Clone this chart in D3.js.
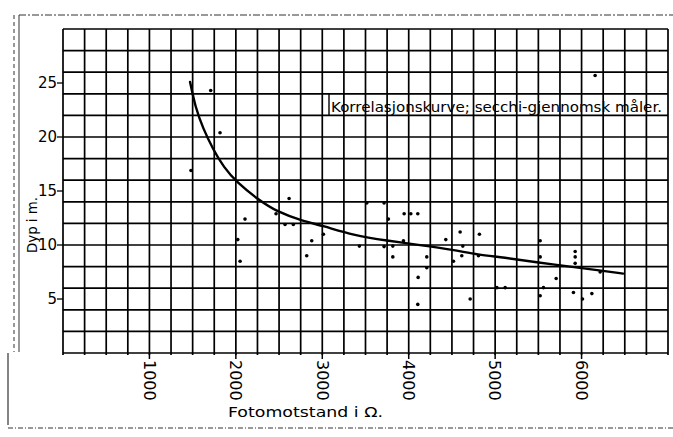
<!DOCTYPE html>
<html>
<head>
<meta charset="utf-8">
<script src="https://cdn.jsdelivr.net/npm/d3@7"></script>
<style>
  html, body { margin: 0; padding: 0; background: #fff; }
  svg { display: block; }
  text { font-family: "DejaVu Sans", sans-serif; fill: #000; }
</style>
</head>
<body>
<svg id="chart" width="673" height="437"></svg>
<script>
// ---- data ----
const xTickValues = [1000, 2000, 3000, 4000, 5000, 6000];
const xTickLabels = ["1000", "2000", "3000", "4000", "5000", "6000"];
const yTickValues = [5, 10, 15, 20, 25];
const yTickLabels = ["5", "10", "15", "20", "25"];

// measured points (Fotomotstand in ohm, Dyp in m)
const pointX = [1709, 1817, 1481, 2616, 2465, 2106, 2569, 2665, 3013, 2022,
                2878, 2049, 2820, 3515, 3715, 3947, 4024, 4105, 3765, 3429,
                3715, 3816, 3939, 3816, 4209, 4209, 4109, 4105, 4429, 4595,
                4626, 4614, 4518, 4807, 4711, 4818, 5020, 5116, 5521, 5521,
                5521, 5559, 5706, 5926, 5926, 5926, 5906, 6011, 6119, 6215,
                6157];
const pointY = [24.3, 20.4, 16.9, 14.3, 12.9, 12.4, 11.9, 11.9, 11.0, 10.5,
                10.4, 8.5, 9.0, 13.9, 13.9, 12.9, 12.9, 12.9, 12.4, 9.9,
                9.85, 9.9, 10.4, 8.9, 8.9, 7.9, 7.0, 4.5, 10.5, 11.2,
                9.9, 9.0, 8.5, 9.0, 5.0, 11.0, 6.05, 6.05, 10.4, 8.9,
                5.3, 6.05, 6.9, 9.4, 8.9, 8.3, 5.6, 5.0, 5.5, 7.5,
                25.7];

// correlation curve
const curveX = [1470, 1530, 1620, 1740, 1860, 2010, 2260, 2470, 2780, 3000,
                3360, 3750, 4130, 4520, 4800, 5100, 5480, 5870, 6250, 6480];
const curveY = [25.1, 22.8, 20.8, 18.8, 17.2, 15.8, 14.2, 13.1, 12.2, 11.8,
                10.9, 10.4, 10.0, 9.55, 9.1, 8.85, 8.4, 8.0, 7.6, 7.35];

const annotation = "Korrelasjonskurve;  secchi-gjennomsk måler.";
const xTitle = "Fotomotstand i Ω.";
const yTitle = "Dyp i m.";

// ---- drawing ----
const svg = d3.select("#chart");
const x = d3.scaleLinear().domain([0, 7000]).range([63, 668]);
const y = d3.scaleLinear().domain([0, 30]).range([353, 29]);

// scan frame
const frame = svg.append("g").attr("stroke", "#333").attr("fill", "none");
frame.append("line").attr("x1", 19).attr("x2", 673).attr("y1", 15).attr("y2", 15)
  .attr("stroke-width", 1).attr("stroke-dasharray", "7,2,2,2");
frame.append("line").attr("x1", 14).attr("x2", 14).attr("y1", 15).attr("y2", 352)
  .attr("stroke-width", 1).attr("stroke-dasharray", "4,3");
frame.append("line").attr("x1", 19).attr("x2", 19).attr("y1", 15).attr("y2", 352)
  .attr("stroke-width", 1);
frame.append("line").attr("x1", 8).attr("x2", 8).attr("y1", 353).attr("y2", 425)
  .attr("stroke-width", 1.2);
frame.append("line").attr("x1", 8).attr("x2", 673).attr("y1", 428).attr("y2", 428)
  .attr("stroke-width", 1).attr("stroke-dasharray", "5,2,1,2");

// grid
const grid = svg.append("g").attr("stroke", "#000").attr("stroke-width", 1.7);
grid.selectAll("line.v").data(d3.range(0, 7001, 250)).join("line")
  .attr("class", "v")
  .attr("x1", d => x(d)).attr("x2", d => x(d))
  .attr("y1", y(30)).attr("y2", y(0) + 2);
grid.selectAll("line.h").data(d3.range(0, 31, 2)).join("line")
  .attr("class", "h")
  .attr("x1", x(0)).attr("x2", x(7000))
  .attr("y1", d => y(d)).attr("y2", d => y(d));

// y axis ticks and labels
const yAxis = svg.append("g");
yAxis.selectAll("line").data(yTickValues).join("line")
  .attr("x1", x(0) - 6).attr("x2", x(0))
  .attr("y1", d => y(d)).attr("y2", d => y(d))
  .attr("stroke", "#000").attr("stroke-width", 1.3);
yAxis.selectAll("text").data(yTickValues).join("text")
  .attr("x", x(0) - 6).attr("y", d => y(d)).attr("dy", "0.36em")
  .attr("text-anchor", "end").attr("font-size", 15)
  .text((d, i) => yTickLabels[i]);

// x axis ticks and labels
const xAxis = svg.append("g");
xAxis.selectAll("line").data(xTickValues).join("line")
  .attr("x1", d => x(d)).attr("x2", d => x(d))
  .attr("y1", y(0)).attr("y2", y(0) + 6)
  .attr("stroke", "#000").attr("stroke-width", 1.5);
xAxis.selectAll("text").data(xTickValues).join("text")
  .attr("transform", d => `translate(${x(d)},${y(0) + 7}) rotate(90)`)
  .attr("dy", "0.36em").attr("font-size", 16)
  .text((d, i) => xTickLabels[i]);

// titles
svg.append("text")
  .attr("x", 228).attr("y", 417).attr("font-size", 14)
  .attr("textLength", 155).attr("lengthAdjust", "spacingAndGlyphs")
  .text(xTitle);
svg.append("text")
  .attr("transform", "translate(37,253) rotate(-90)")
  .attr("font-size", 14)
  .attr("textLength", 56).attr("lengthAdjust", "spacingAndGlyphs")
  .text(yTitle);

// annotation
svg.append("line").attr("x1", 329).attr("x2", 329).attr("y1", y(24)).attr("y2", y(22))
  .attr("stroke", "#000").attr("stroke-width", 1.4);
svg.append("text")
  .attr("x", 331).attr("y", 111.5).attr("font-size", 13.5)
  .attr("textLength", 331).attr("lengthAdjust", "spacingAndGlyphs")
  .text(annotation);

// curve
const curvePts = curveX.map((d, i) => [d, curveY[i]]);
svg.append("path")
  .datum(curvePts)
  .attr("fill", "none").attr("stroke", "#000").attr("stroke-width", 2.4)
  .attr("stroke-linecap", "round")
  .attr("d", d3.line().x(d => x(d[0])).y(d => y(d[1])).curve(d3.curveBasis));

// points
const pts = pointX.map((d, i) => [d, pointY[i]]);
svg.append("g").selectAll("circle").data(pts).join("circle")
  .attr("cx", d => x(d[0])).attr("cy", d => y(d[1]))
  .attr("r", 1.8).attr("fill", "#000");
</script>
</body>
</html>
